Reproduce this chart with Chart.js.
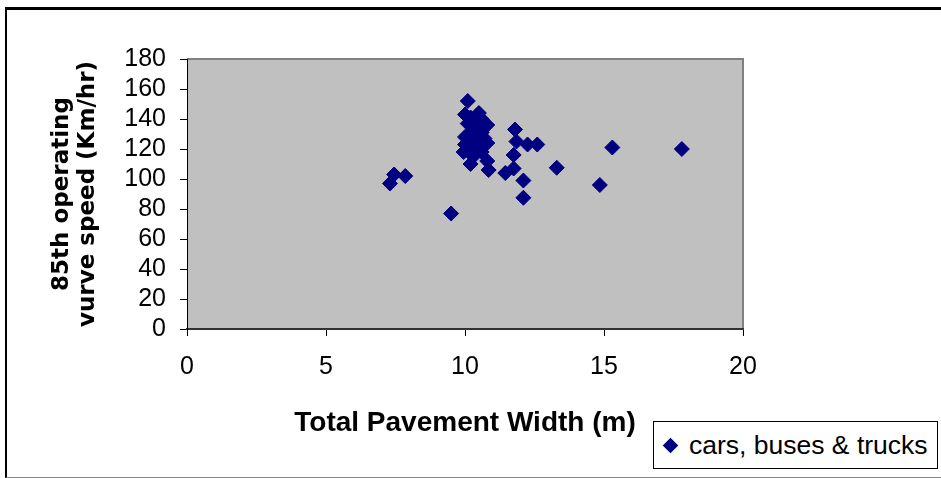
<!DOCTYPE html>
<html>
<head>
<meta charset="utf-8">
<script src="https://cdn.jsdelivr.net/npm/chart.js@4"></script>
<style>
  html, body { margin: 0; padding: 0; width: 941px; height: 478px; overflow: hidden; background: #fff; }
  #frame {
    position: absolute; left: 5px; top: 7px; width: 1000px; height: 471px;
    box-sizing: border-box;
    border-top: 3px solid #000; border-left: 2px solid #000; border-bottom: 1px solid #888;
  }
  #chart { position: absolute; left: 0; top: 0; }
  #legend {
    position: absolute; left: 653px; top: 421px; width: 285px; height: 48px;
    box-sizing: border-box; border: 1px solid #000; background: #fff;
    font-family: "Liberation Sans", Arial, sans-serif; font-size: 26.5px; color: #000;
    display: flex; align-items: center; white-space: nowrap;
  }
  #legend .mark {
    width: 11px; height: 11px; background: #000080; transform: rotate(45deg);
    margin-left: 11px; margin-right: 13px; flex: none;
  }
</style>
</head>
<body>
<div id="frame"></div>
<canvas id="chart" width="941" height="478"></canvas>
<div id="legend"></div>
<script>
// ข้อมูลกราฟ: ความกว้างผิวทาง (m) กับความเร็ว 85th (Km/hr)
const seriesLabel = "cars, buses & trucks";
const widths = [
  10.1, 10.0, 10.2, 10.5, 10.6, 10.8, 10.1, 10.4, 10.6, 10.2,
  10.0, 10.4, 10.7, 10.3, 10.0, 10.8, 10.5, 10.15, 9.95, 10.3,
  10.6, 10.2, 10.8, 10.85,
  7.3, 7.45, 7.85, 9.5, 11.45, 11.75, 11.75, 11.85, 11.8, 12.25,
  12.6, 12.1, 12.1, 13.3, 14.85, 15.3, 17.8
];
const speeds = [
  152, 143, 141, 144, 140, 136, 137, 136, 131, 131,
  128, 127, 127, 124, 123, 124, 121, 119, 118, 115,
  118, 110, 112, 106,
  97, 103, 102, 77, 104, 107, 116, 125, 133, 123,
  123, 99, 87.5, 107.5, 96, 121, 120
];
const xTicks = [0, 5, 10, 15, 20];
const yTicks = [0, 20, 40, 60, 80, 100, 120, 140, 160, 180];
const xTitle = "Total Pavement Width (m)";
const yTitle = ["85th operating", "vurve speed (Km/hr)"];

const points = widths.map((w, i) => ({ x: w, y: speeds[i] }));

// พื้นหลังสีเทาของพื้นที่กราฟ
const plotBg = {
  id: "plotBg",
  beforeDraw(chart) {
    const { ctx, chartArea: a } = chart;
    ctx.save();
    ctx.fillStyle = "#c0c0c0";
    ctx.fillRect(a.left, a.top, a.right - a.left, a.bottom - a.top);
    ctx.strokeStyle = "#808080";
    ctx.lineWidth = 2;
    ctx.beginPath();
    ctx.moveTo(a.left, a.top);
    ctx.lineTo(a.right, a.top);
    ctx.lineTo(a.right, a.bottom);
    ctx.stroke();
    ctx.restore();
  }
};

const tickFont = { family: "'Liberation Sans', Arial, sans-serif", size: 25 };

const chart = new Chart(document.getElementById("chart"), {
  type: "scatter",
  data: {
    datasets: [{
      label: seriesLabel,
      data: points,
      pointStyle: "rectRot",
      pointRadius: 7.5,
      backgroundColor: "#000080",
      borderColor: "#000080",
      borderWidth: 1
    }]
  },
  options: {
    responsive: false,
    animation: false,
    layout: { padding: { left: 0, top: 59, right: 198, bottom: 0 } },
    plugins: {
      legend: { display: false },
      tooltip: { enabled: false }
    },
    scales: {
      x: {
        type: "linear",
        min: 0, max: 20,
        afterBuildTicks: s => { s.ticks = xTicks.map(v => ({ value: v })); },
        afterFit: s => { s.height = 149; },
        grid: { drawOnChartArea: false, tickLength: 7, color: "#000" },
        border: { color: "#333", width: 2 },
        ticks: { font: tickFont, color: "#000", padding: 16, maxRotation: 0, autoSkip: false },
        title: {
          display: true, text: xTitle, color: "#000",
          font: { family: "'Liberation Sans', Arial, sans-serif", size: 28, weight: "bold" },
          padding: { top: 0, bottom: 38 }
        }
      },
      y: {
        min: 0, max: 180,
        afterBuildTicks: s => { s.ticks = yTicks.map(v => ({ value: v })); },
        afterFit: s => { s.width = 187; },
        grid: { drawOnChartArea: false, tickLength: 7, color: "#000" },
        border: { color: "#000", width: 1 },
        ticks: { font: tickFont, color: "#000", padding: 14, autoSkip: false },
        title: {
          display: true, text: yTitle, color: "#000",
          font: { family: "'DejaVu Sans', sans-serif", size: 23, weight: "bold", lineHeight: 26 / 23 },
          padding: { top: 49, bottom: 0 }
        }
      }
    }
  },
  plugins: [plotBg]
});

// คำอธิบายสัญลักษณ์ (legend) แบบมีกรอบ
const legendEl = document.getElementById("legend");
chart.data.datasets.forEach(ds => {
  const mark = document.createElement("span");
  mark.className = "mark";
  const text = document.createElement("span");
  text.textContent = ds.label;
  legendEl.appendChild(mark);
  legendEl.appendChild(text);
});
</script>
</body>
</html>
